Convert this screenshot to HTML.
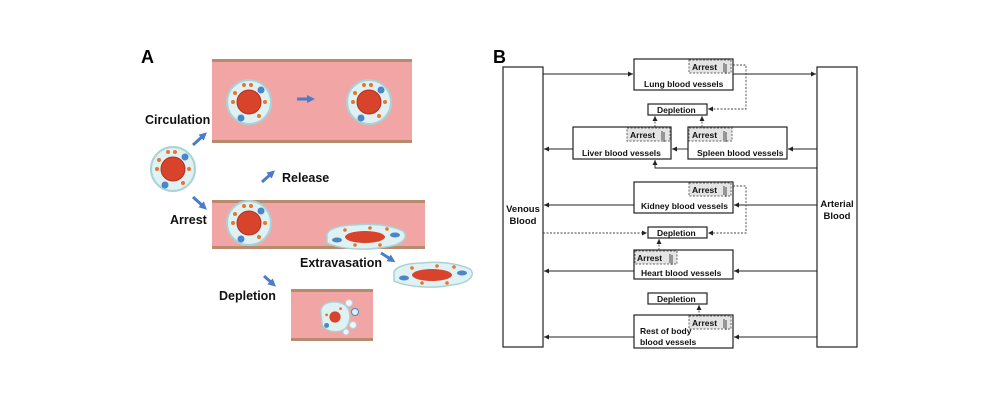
<!DOCTYPE html>
<html><head><meta charset="utf-8"><style>
html,body{margin:0;padding:0;background:#fff;width:1000px;height:400px;overflow:hidden}
svg{display:block}
text{font-family:"Liberation Sans",Arial,sans-serif;font-weight:bold}
</style></head><body>
<svg width="1000" height="400" viewBox="0 0 1000 400" xmlns="http://www.w3.org/2000/svg">
<defs>
<marker id="ah" markerWidth="6" markerHeight="6" refX="5" refY="3" orient="auto" markerUnits="userSpaceOnUse"><path d="M0,0.5 L5,3 L0,5.5z" fill="#222"/></marker>
<marker id="ba" markerWidth="8" markerHeight="8" refX="4" refY="4" orient="auto" markerUnits="userSpaceOnUse"><path d="M0,0 L8,4 L0,8z" fill="#4a7cc8"/></marker>
<g id="cell">
<circle r="22" fill="#dff1f2" stroke="#a8d3d6" stroke-width="2"/>
<circle r="12" fill="#d8432b" stroke="#b3301c"/>
<circle cx="-5" cy="-17" r="2" fill="#e8752e"/><circle cx="2" cy="-17" r="2" fill="#e8752e"/>
<circle cx="-16" cy="0" r="2" fill="#e8752e"/><circle cx="16" cy="0" r="2" fill="#e8752e"/>
<circle cx="10" cy="14" r="2" fill="#e8752e"/><circle cx="-14" cy="-9" r="2" fill="#e8752e"/>
<circle cx="12" cy="-12" r="3.5" fill="#4a86c8"/><circle cx="-8" cy="16" r="3.5" fill="#4a86c8"/>
</g>
<g id="flat">
<path d="M-38,0 C-40,-8 -25,-12 -10,-12 C5,-14 25,-12 38,-6 C44,0 38,8 20,10 C0,14 -25,12 -38,6z" fill="#dff1f2" stroke="#a8d3d6" stroke-width="1.5"/>
<ellipse rx="20" ry="6" fill="#d8432b"/>
<ellipse cx="-28" cy="3" rx="5" ry="2.5" fill="#4a86c8"/><ellipse cx="30" cy="-2" rx="5" ry="2.5" fill="#4a86c8"/>
<circle cx="-20" cy="-7" r="1.8" fill="#e8752e"/><circle cx="5" cy="-9" r="1.8" fill="#e8752e"/><circle cx="22" cy="-8" r="1.8" fill="#e8752e"/><circle cx="15" cy="8" r="1.8" fill="#e8752e"/><circle cx="-10" cy="8" r="1.8" fill="#e8752e"/>
</g>
</defs>

<!-- Panel A -->
<text x="141" y="63" font-size="18">A</text>
<rect x="212" y="61" width="200" height="81" fill="#f2a5a5"/>
<rect x="212" y="59" width="200" height="3" fill="#b98a6e"/><rect x="212" y="140" width="200" height="3" fill="#b98a6e"/>
<rect x="212" y="202" width="213" height="45" fill="#f2a5a5"/>
<rect x="212" y="200" width="213" height="3" fill="#b98a6e"/><rect x="212" y="246" width="213" height="3" fill="#b98a6e"/>
<rect x="291" y="291" width="82" height="49" fill="#f2a5a5"/>
<rect x="291" y="289" width="82" height="3" fill="#b98a6e"/><rect x="291" y="338" width="82" height="3" fill="#b98a6e"/>

<use href="#cell" x="249" y="102"/><use href="#cell" x="369" y="102"/>
<use href="#cell" x="173" y="169"/><use href="#cell" x="249" y="223"/>
<use href="#flat" x="365" y="237"/><use href="#flat" x="432" y="275"/>
<g transform="translate(335,317) scale(0.7)"><path d="M-20,-5 C-22,-20 -5,-24 8,-20 C22,-16 24,0 18,12 C12,24 -10,24 -18,12z" fill="#dff1f2" stroke="#a8d3d6" stroke-width="2"/><circle r="8" fill="#d8432b"/><circle cx="-12" cy="12" r="3.5" fill="#4a86c8"/><circle cx="-12" cy="-3" r="2" fill="#e8752e"/><circle cx="8" cy="-12" r="2" fill="#e8752e"/></g>
<circle cx="349" cy="303" r="3.5" fill="#eef7f8" stroke="#bcd"/><circle cx="355" cy="312" r="3.5" fill="#dff1f2" stroke="#4a86c8"/><circle cx="353" cy="325" r="3.5" fill="#eef7f8" stroke="#bcd"/><circle cx="346" cy="332" r="3" fill="#eef7f8" stroke="#bcd"/>

<g stroke="#4a7cc8" stroke-width="3" marker-end="url(#ba)">
<line x1="193" y1="145" x2="204" y2="135"/>
<line x1="193" y1="197" x2="204" y2="207"/>
<line x1="262" y1="182" x2="272" y2="173"/>
<line x1="297" y1="99" x2="311" y2="99"/>
<line x1="381" y1="253" x2="392" y2="260"/>
<line x1="264" y1="276" x2="273" y2="284"/>
</g>
<g font-size="12.5" fill="#111">
<text x="145" y="124">Circulation</text>
<text x="282" y="182">Release</text>
<text x="170" y="224">Arrest</text>
<text x="300" y="267">Extravasation</text>
<text x="219" y="300">Depletion</text>
</g>

<!-- Panel B -->
<text x="493" y="63" font-size="18">B</text>
<g fill="#fff" stroke="#222" stroke-width="1.2">
<rect x="503" y="67" width="40" height="280"/>
<rect x="817" y="67" width="40" height="280"/>
<rect x="634" y="59" width="99" height="31"/>
<rect x="573" y="127" width="98" height="32"/>
<rect x="688" y="127" width="99" height="32"/>
<rect x="634" y="182" width="99" height="31"/>
<rect x="634" y="250" width="99" height="29"/>
<rect x="634" y="315" width="99" height="33"/>
<rect x="648" y="104" width="59" height="11"/>
<rect x="648" y="227" width="59" height="11"/>
<rect x="648" y="293" width="59" height="11"/>
</g>
<g fill="#e4e4e4" stroke="#666" stroke-width="1" stroke-dasharray="2,1.5">
<rect x="689" y="60" width="42" height="13"/>
<rect x="627" y="128" width="43" height="13"/>
<rect x="689" y="128" width="43" height="13"/>
<rect x="689" y="183" width="42" height="13"/>
<rect x="635" y="251" width="42" height="13"/>
<rect x="689" y="316" width="42" height="13"/>
</g>
<g font-size="8.5" fill="#111">
<text x="692" y="70">Arrest</text><text x="630" y="138">Arrest</text><text x="692" y="138">Arrest</text>
<text x="692" y="193">Arrest</text><text x="637" y="261">Arrest</text><text x="692" y="326">Arrest</text>
<text x="644" y="87">Lung blood vessels</text>
<text x="582" y="156">Liver blood vessels</text>
<text x="697" y="156">Spleen blood vessels</text>
<text x="641" y="209">Kidney blood vessels</text>
<text x="641" y="276">Heart blood vessels</text>
<text x="640" y="334">Rest of body</text>
<text x="640" y="345">blood vessels</text>
<text x="657" y="113">Depletion</text>
<text x="657" y="236">Depletion</text>
<text x="657" y="302">Depletion</text>
</g>
<g font-size="9.5" fill="#111">
<text x="523" y="212" text-anchor="middle">Venous</text>
<text x="523" y="224" text-anchor="middle">Blood</text>
<text x="837" y="207" text-anchor="middle">Arterial</text>
<text x="837" y="219" text-anchor="middle">Blood</text>
</g>
<g stroke="#222" stroke-width="0.8">
<path d="M724,72 V63 M726,64 V74"/><path d="M662,140 V131 M664,132 V142"/><path d="M724,140 V131 M726,132 V142"/>
<path d="M724,195 V186 M726,187 V197"/><path d="M670,263 V254 M672,255 V265"/><path d="M724,328 V319 M726,320 V330"/>
</g>
<g stroke="#222" stroke-width="0.9" fill="none" marker-end="url(#ah)">
<line x1="543" y1="74" x2="633" y2="74"/>
<line x1="733" y1="74" x2="816" y2="74"/>
<line x1="573" y1="149" x2="544" y2="149"/>
<line x1="688" y1="149" x2="672" y2="149"/>
<line x1="817" y1="149" x2="788" y2="149"/>
<polyline points="817,168 655,168 655,160"/>
<line x1="634" y1="205" x2="544" y2="205"/>
<line x1="817" y1="205" x2="734" y2="205"/>
<line x1="634" y1="271" x2="544" y2="271"/>
<line x1="817" y1="271" x2="734" y2="271"/>
<line x1="634" y1="337" x2="544" y2="337"/>
<line x1="817" y1="337" x2="734" y2="337"/>
</g>
<g stroke="#444" stroke-width="0.9" fill="none" stroke-dasharray="2,1.5" marker-end="url(#ah)">
<polyline points="733,65 746,65 746,109 708,109"/>
<line x1="655" y1="127" x2="655" y2="116"/>
<line x1="702" y1="127" x2="702" y2="116"/>
<polyline points="733,186 746,186 746,233 708,233"/>
<line x1="543" y1="233" x2="647" y2="233"/>
<line x1="659" y1="250" x2="659" y2="239"/>
<line x1="699" y1="316" x2="699" y2="305"/>
</g>
</svg>
</body></html>
